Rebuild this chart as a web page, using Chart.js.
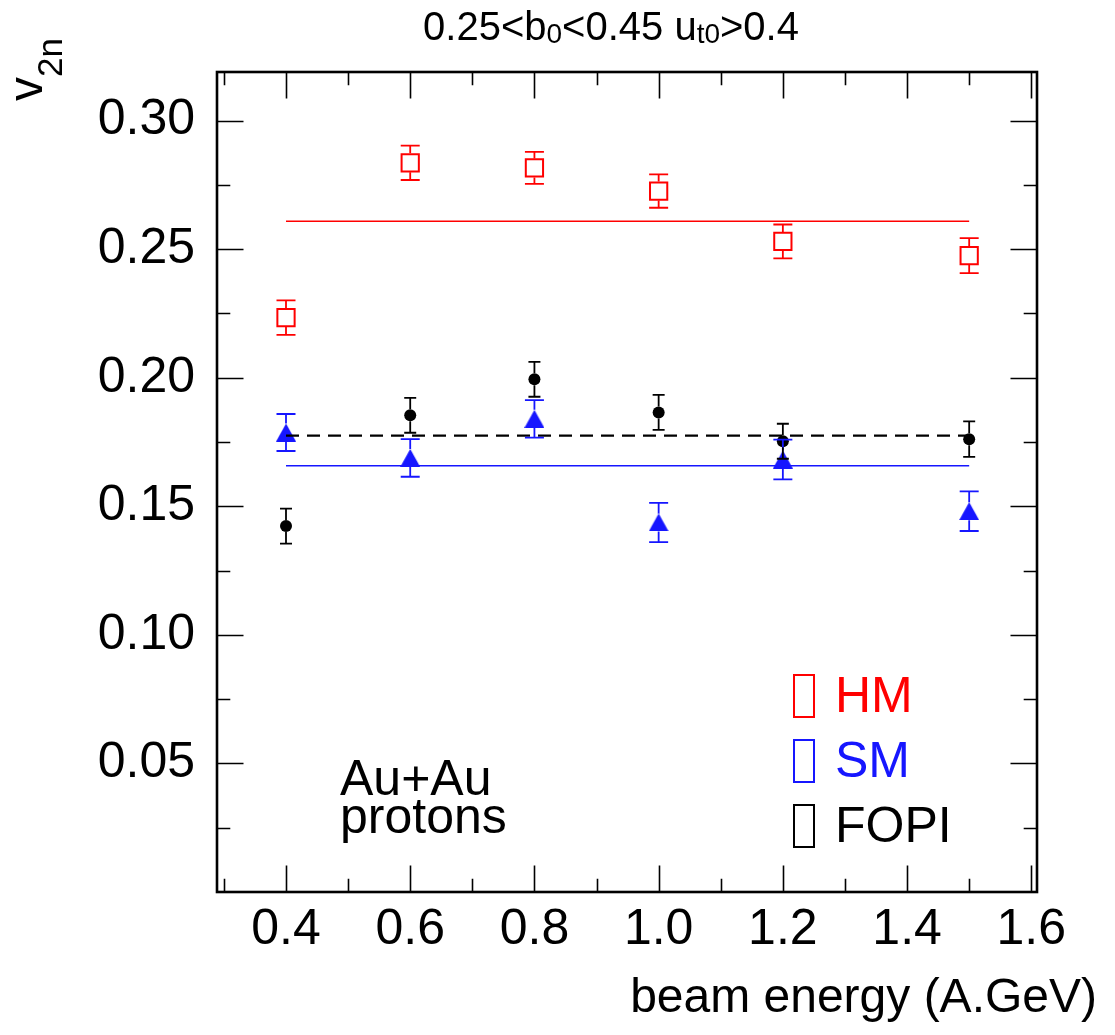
<!DOCTYPE html>
<html>
<head>
<meta charset="utf-8">
<script src="https://cdn.jsdelivr.net/npm/chart.js@4.4.1/dist/chart.umd.min.js"></script>
<style>
    html, body { margin: 0; padding: 0; background: #fff; }
    #wrap { width: 1115px; height: 1035px; }
</style>
</head>
<body>
<div id="wrap"><canvas id="v2Chart" width="1115" height="1035"></canvas></div>
<script>
// beam energies (A.GeV)
const energies = [0.4, 0.6, 0.8, 1.0, 1.2, 1.5];

// v2n values, with their errors
const hmValues = [0.2234, 0.2836, 0.2816, 0.2726, 0.2530, 0.2475];
const hmErrors = [0.0067, 0.0067, 0.0062, 0.0065, 0.0066, 0.0068];
const smValues = [0.1787, 0.1688, 0.1840, 0.1437, 0.1682, 0.1481];
const smErrors = [0.0072, 0.0073, 0.0073, 0.0076, 0.0077, 0.0077];
const fopiValues = [0.1423, 0.1854, 0.1994, 0.1865, 0.1753, 0.1761];
const fopiErrors = [0.0068, 0.0068, 0.0068, 0.0068, 0.0068, 0.0069];

// constant fits over the energy range
const fitRange = [0.4, 1.5];
const hmFit = 0.2609;
const smFit = 0.1658;
const fopiFit = 0.1775;

// axis ticks
const xTickValues = [0.4, 0.6, 0.8, 1.0, 1.2, 1.4, 1.6];
const xMinorValues = [0.3, 0.5, 0.7, 0.9, 1.1, 1.3, 1.5];
const yTickValues = [0.05, 0.10, 0.15, 0.20, 0.25, 0.30];
const yMinorValues = [0.025, 0.075, 0.125, 0.175, 0.225, 0.275];

const legendLabels = ['HM', 'SM', 'FOPI'];

const RED = '#ff0000';
const BLUE = 'rgb(22,22,255)';
const BLACK = '#000000';
const FONT = "'Liberation Sans', Arial, Helvetica, sans-serif";

Chart.defaults.font.family = FONT;

function points(values) {
    return energies.map((e, i) => ({x: e, y: values[i]}));
}

function fitLine(value) {
    return fitRange.map(e => ({x: e, y: value}));
}

// filled triangle, centred on its bounding box like the ROOT marker
function triangleMarker(color, w, h) {
    const c = document.createElement('canvas');
    c.width = w;
    c.height = h;
    const g = c.getContext('2d');
    g.fillStyle = color;
    g.beginPath();
    g.moveTo(w / 2, 0);
    g.lineTo(w, h);
    g.lineTo(0, h);
    g.closePath();
    g.fill();
    return c;
}

const errorSeries = [
    {values: hmValues, errors: hmErrors, color: RED, gap: 9.5, cap: 19},
    {values: smValues, errors: smErrors, color: BLUE, gap: 9, cap: 19},
    {values: fopiValues, errors: fopiErrors, color: BLACK, gap: 6, cap: 12}
];

const errorBarPlugin = {
    id: 'errorBars',
    afterDatasetsDraw(chart) {
        const {ctx, scales: {x, y}} = chart;
        ctx.save();
        ctx.lineWidth = 1.8;
        errorSeries.forEach(s => {
            ctx.strokeStyle = s.color;
            energies.forEach((e, i) => {
                const px = x.getPixelForValue(e);
                const py = y.getPixelForValue(s.values[i]);
                const top = y.getPixelForValue(s.values[i] + s.errors[i]);
                const bottom = y.getPixelForValue(s.values[i] - s.errors[i]);
                ctx.beginPath();
                if (py - s.gap > top) {
                    ctx.moveTo(px, py - s.gap);
                    ctx.lineTo(px, top);
                }
                if (py + s.gap < bottom) {
                    ctx.moveTo(px, py + s.gap);
                    ctx.lineTo(px, bottom);
                }
                ctx.moveTo(px - s.cap / 2, top);
                ctx.lineTo(px + s.cap / 2, top);
                ctx.moveTo(px - s.cap / 2, bottom);
                ctx.lineTo(px + s.cap / 2, bottom);
                ctx.stroke();
            });
        });
        ctx.restore();
    }
};

// ROOT style frame with ticks pointing inwards on all four sides
const framePlugin = {
    id: 'frame',
    afterDraw(chart) {
        const {ctx, chartArea: a, scales: {x, y}} = chart;
        const major = 26.5, minor = 13.3;
        ctx.save();
        ctx.strokeStyle = BLACK;
        ctx.lineWidth = 1.6;
        ctx.beginPath();
        const xt = (vals, len) => vals.forEach(v => {
            const px = Math.round(x.getPixelForValue(v)) + 0.5;
            ctx.moveTo(px, a.bottom);
            ctx.lineTo(px, a.bottom - len);
            ctx.moveTo(px, a.top);
            ctx.lineTo(px, a.top + len);
        });
        const yt = (vals, len) => vals.forEach(v => {
            const py = Math.round(y.getPixelForValue(v)) + 0.5;
            ctx.moveTo(a.left, py);
            ctx.lineTo(a.left + len, py);
            ctx.moveTo(a.right, py);
            ctx.lineTo(a.right - len, py);
        });
        xt(xTickValues, major);
        xt(xMinorValues, minor);
        yt(yTickValues, major);
        yt(yMinorValues, minor);
        ctx.stroke();
        ctx.lineWidth = 2.6;
        ctx.strokeRect(a.left, a.top, a.right - a.left, a.bottom - a.top);
        ctx.restore();
    }
};

// text with subscripts: parts = [[text, isSub], ...]
function drawRich(ctx, parts, x, y, size, align) {
    const subSize = size * 0.7;
    let total = 0;
    const widths = parts.map(p => {
        ctx.font = (p[1] ? subSize : size) + 'px ' + FONT;
        const w = ctx.measureText(p[0]).width;
        total += w;
        return w;
    });
    let cx = align === 'center' ? x - total / 2 : x;
    parts.forEach((p, i) => {
        ctx.font = (p[1] ? subSize : size) + 'px ' + FONT;
        ctx.fillText(p[0], cx, p[1] ? y + 3 : y);
        cx += widths[i];
    });
}

const textPlugin = {
    id: 'texts',
    afterDraw(chart) {
        const ctx = chart.ctx;
        ctx.save();
        ctx.fillStyle = BLACK;
        ctx.textAlign = 'left';
        ctx.textBaseline = 'alphabetic';

        // title
        drawRich(ctx, [['0.25<b', false], ['0', true], ['<0.45 u', false], ['t0', true], ['>0.4', false]],
            611, 40, 40, 'center');

        // y axis title, rotated
        ctx.save();
        ctx.translate(42, 101);
        ctx.rotate(-Math.PI / 2);
        ctx.font = '48px ' + FONT;
        ctx.fillText('v', 0, 0);
        const vw = ctx.measureText('v').width;
        ctx.font = '35px ' + FONT;
        ctx.fillText('2n', vw, 20);
        ctx.restore();

        // x axis title
        ctx.font = '48px ' + FONT;
        ctx.textAlign = 'right';
        ctx.fillText('beam energy (A.GeV)', 1097, 1012);
        ctx.textAlign = 'left';

        // system label
        ctx.font = '50px ' + FONT;
        ctx.fillText('Au+Au', 340, 795);
        ctx.fillText('protons', 340, 833);

        // legend
        const colors = [RED, BLUE, BLACK];
        const baselines = [712, 777, 842];
        ctx.lineWidth = 2;
        legendLabels.forEach((label, i) => {
            ctx.strokeStyle = colors[i];
            ctx.fillStyle = colors[i];
            ctx.strokeRect(794, baselines[i] - 37, 20, 42);
            ctx.fillText(label, 835, baselines[i]);
        });
        ctx.restore();
    }
};

const ctx = document.getElementById('v2Chart').getContext('2d');

new Chart(ctx, {
    type: 'scatter',
    data: {
        datasets: [
            {
                label: 'HM fit', type: 'line', data: fitLine(hmFit), showLine: true,
                borderColor: RED, borderWidth: 1.5, pointRadius: 0, order: 0
            },
            {
                label: 'SM fit', type: 'line', data: fitLine(smFit), showLine: true,
                borderColor: BLUE, borderWidth: 1.5, pointRadius: 0, order: 0
            },
            {
                label: 'FOPI fit', type: 'line', data: fitLine(fopiFit), showLine: true,
                borderColor: BLACK, borderWidth: 2.2, borderDash: [13, 8], pointRadius: 0, order: 0
            },
            {
                label: 'FOPI', data: points(fopiValues), pointStyle: 'circle', pointRadius: 6,
                backgroundColor: BLACK, borderColor: BLACK, borderWidth: 0, order: 1
            },
            {
                label: 'SM', data: points(smValues), pointStyle: triangleMarker(BLUE, 20, 18),
                pointRadius: 10, backgroundColor: BLUE, borderColor: BLUE, order: 2
            },
            {
                label: 'HM', data: points(hmValues), pointStyle: 'rect', pointRadius: 12.2,
                backgroundColor: 'rgba(0,0,0,0)', borderColor: RED, borderWidth: 2, order: 3
            }
        ]
    },
    options: {
        responsive: false,
        animation: false,
        devicePixelRatio: 1,
        layout: {padding: {left: 0, right: 78, top: 72, bottom: 0}},
        plugins: {
            legend: {display: false},
            tooltip: {enabled: false},
            title: {display: false}
        },
        scales: {
            x: {
                type: 'linear',
                min: 0.2889,
                max: 1.6092,
                afterBuildTicks: scale => {
                    scale.ticks = xTickValues.map(v => ({value: v}));
                },
                afterFit: scale => {
                    scale.height = 143;
                },
                grid: {display: false, drawTicks: false},
                border: {display: false},
                ticks: {
                    padding: 8,
                    color: BLACK,
                    font: {size: 50},
                    maxRotation: 0,
                    autoSkip: false,
                    callback: v => v.toFixed(1)
                }
            },
            y: {
                type: 'linear',
                min: 0,
                max: 0.3189,
                afterBuildTicks: scale => {
                    scale.ticks = yTickValues.map(v => ({value: v}));
                },
                afterFit: scale => {
                    scale.width = 217;
                },
                grid: {display: false, drawTicks: false},
                border: {display: false},
                ticks: {
                    padding: 22,
                    color: BLACK,
                    font: {size: 50},
                    autoSkip: false,
                    callback: v => v.toFixed(2)
                }
            }
        }
    },
    plugins: [errorBarPlugin, framePlugin, textPlugin]
});
</script>
</body>
</html>
